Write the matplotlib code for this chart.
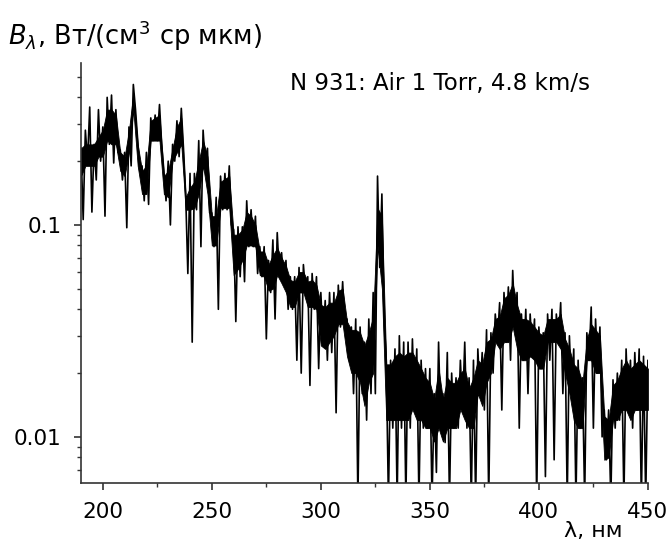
import numpy as np
import matplotlib
matplotlib.use('Agg')
import matplotlib.pyplot as plt
from matplotlib.ticker import LogLocator, NullFormatter, FixedLocator, MultipleLocator

plt.rcParams['font.family'] = ['DejaVu Sans']
plt.rcParams['mathtext.fontset'] = 'dejavusans'

# spectrum in 2 nm bins
wavelength = list(range(190, 451, 2))
# extreme excursions (spikes) per bin
upper = [0.23, 0.28, 0.36, 0.24, 0.35, 0.29, 0.40, 0.41, 0.35, 0.226,
         0.22, 0.29, 0.46, 0.25, 0.19, 0.22, 0.32, 0.33, 0.37, 0.18,
         0.20, 0.24, 0.31, 0.355, 0.14, 0.175, 0.175, 0.25, 0.28, 0.23,
         0.114, 0.135, 0.17, 0.175, 0.19, 0.095, 0.098, 0.098, 0.13, 0.118,
         0.11, 0.079, 0.079, 0.068, 0.085, 0.092, 0.074, 0.068, 0.057, 0.057,
         0.063, 0.065, 0.057, 0.059, 0.057, 0.048, 0.044, 0.048, 0.048, 0.052,
         0.054, 0.036, 0.033, 0.036, 0.033, 0.028, 0.036, 0.048, 0.17, 0.14,
         0.023, 0.023, 0.026, 0.030, 0.028, 0.028, 0.029, 0.026, 0.023, 0.021,
         0.021, 0.016, 0.028, 0.016, 0.025, 0.020, 0.019, 0.023, 0.028, 0.019,
         0.023, 0.026, 0.025, 0.032, 0.031, 0.038, 0.043, 0.048, 0.051, 0.061,
         0.048, 0.038, 0.040, 0.038, 0.036, 0.033, 0.031, 0.038, 0.040, 0.038,
         0.043, 0.031, 0.030, 0.026, 0.023, 0.019, 0.031, 0.041, 0.036, 0.033,
         0.0134, 0.0134, 0.0186, 0.020, 0.023, 0.026, 0.023, 0.025, 0.026, 0.024,
         0.023]
lower = [0.106, 0.20, 0.115, 0.163, 0.20, 0.11, 0.24, 0.196, 0.22, 0.163,
         0.097, 0.19, 0.35, 0.18, 0.13, 0.125, 0.25, 0.25, 0.24, 0.13,
         0.10, 0.20, 0.21, 0.23, 0.059, 0.028, 0.118, 0.079, 0.19, 0.114,
         0.079, 0.040, 0.118, 0.118, 0.10, 0.035, 0.057, 0.054, 0.079, 0.079,
         0.059, 0.057, 0.029, 0.048, 0.036, 0.057, 0.052, 0.040, 0.040, 0.023,
         0.020, 0.048, 0.0175, 0.040, 0.021, 0.028, 0.023, 0.025, 0.013, 0.033,
         0.033, 0.023, 0.016, 0.005, 0.016, 0.012, 0.016, 0.016, 0.063, 0.037,
         0.005, 0.011, 0.005, 0.011, 0.005, 0.011, 0.0134, 0.005, 0.011, 0.011,
         0.005, 0.0068, 0.011, 0.0094, 0.005, 0.011, 0.011, 0.0134, 0.011, 0.005,
         0.005, 0.016, 0.0134, 0.005, 0.020, 0.028, 0.0134, 0.028, 0.023, 0.033,
         0.011, 0.023, 0.016, 0.025, 0.005, 0.021, 0.0065, 0.023, 0.0078, 0.028,
         0.016, 0.005, 0.016, 0.005, 0.011, 0.005, 0.023, 0.011, 0.020, 0.010,
         0.0078, 0.005, 0.011, 0.012, 0.005, 0.0134, 0.011, 0.0134, 0.005, 0.005,
         0.0134]
# dense (solid black) part of the trace per bin
core_hi = [0.23, 0.24, 0.24, 0.24, 0.26, 0.28, 0.35, 0.35, 0.33, 0.22,
           0.21, 0.28, 0.42, 0.24, 0.18, 0.19, 0.31, 0.32, 0.33, 0.17,
           0.18, 0.23, 0.29, 0.32, 0.135, 0.15, 0.16, 0.20, 0.25, 0.21,
           0.11, 0.11, 0.16, 0.165, 0.17, 0.09, 0.09, 0.095, 0.115, 0.11,
           0.10, 0.075, 0.075, 0.065, 0.072, 0.078, 0.07, 0.064, 0.055, 0.054,
           0.06, 0.06, 0.054, 0.055, 0.052, 0.042, 0.041, 0.043, 0.043, 0.049,
           0.05, 0.035, 0.032, 0.032, 0.031, 0.027, 0.031, 0.037, 0.12, 0.11,
           0.022, 0.022, 0.024, 0.025, 0.024, 0.025, 0.025, 0.023, 0.021, 0.019,
           0.018, 0.015, 0.021, 0.015, 0.019, 0.018, 0.018, 0.02, 0.021, 0.017,
           0.019, 0.023, 0.022, 0.028, 0.029, 0.036, 0.037, 0.045, 0.047, 0.053,
           0.042, 0.036, 0.036, 0.035, 0.033, 0.031, 0.03, 0.036, 0.036, 0.036,
           0.038, 0.029, 0.026, 0.022, 0.021, 0.018, 0.029, 0.034, 0.032, 0.030,
           0.0125, 0.012, 0.0175, 0.0185, 0.021, 0.023, 0.021, 0.022, 0.023, 0.022,
           0.021]
core_lo = [0.17, 0.19, 0.19, 0.19, 0.21, 0.21, 0.25, 0.24, 0.24, 0.18,
           0.17, 0.22, 0.35, 0.19, 0.14, 0.14, 0.25, 0.25, 0.25, 0.14,
           0.135, 0.20, 0.22, 0.24, 0.118, 0.118, 0.12, 0.14, 0.19, 0.14,
           0.08, 0.08, 0.12, 0.12, 0.12, 0.058, 0.062, 0.068, 0.08, 0.08,
           0.079, 0.058, 0.057, 0.049, 0.05, 0.058, 0.053, 0.048, 0.041, 0.041,
           0.048, 0.048, 0.041, 0.041, 0.04, 0.027, 0.026, 0.028, 0.03, 0.034,
           0.034, 0.024, 0.02, 0.02, 0.018, 0.014, 0.018, 0.02, 0.08, 0.05,
           0.012, 0.012, 0.012, 0.012, 0.012, 0.012, 0.0135, 0.012, 0.012, 0.011,
           0.011, 0.0095, 0.011, 0.0095, 0.011, 0.011, 0.011, 0.0135, 0.012, 0.011,
           0.011, 0.016, 0.014, 0.018, 0.02, 0.028, 0.026, 0.028, 0.028, 0.033,
           0.026, 0.023, 0.023, 0.024, 0.023, 0.021, 0.021, 0.028, 0.028, 0.028,
           0.026, 0.02, 0.016, 0.012, 0.011, 0.011, 0.023, 0.023, 0.02, 0.02,
           0.0078, 0.008, 0.012, 0.012, 0.0134, 0.0134, 0.012, 0.0134, 0.0134, 0.0134,
           0.0134]

# zigzag: upper value at the bin start, lower value one nm later
x = []
y = []
for w, hi, lo in zip(wavelength, upper, lower):
    x += [w, w + 1]
    y += [hi, lo]

fig = plt.figure(figsize=(6.70, 5.51), dpi=100)
ax = fig.add_axes([0.1209, 0.1234, 0.8461, 0.7623])
ax.fill_between(wavelength, core_lo, core_hi, color='black', lw=0.6,
                edgecolor='black')
ax.plot(x, y, color='black', lw=1.2)

ax.set_yscale('log')
ax.set_xlim(190, 450)
ax.set_ylim(0.00606, 0.581)

ax.xaxis.set_major_locator(MultipleLocator(50))
ax.xaxis.set_minor_locator(MultipleLocator(25))
ax.yaxis.set_major_locator(FixedLocator([0.01, 0.1]))
ax.set_yticklabels(['0.01', '0.1'])
ax.yaxis.set_minor_locator(LogLocator(base=10, subs=np.arange(2, 10)))
ax.yaxis.set_minor_formatter(NullFormatter())

for side in ['top', 'right']:
    ax.spines[side].set_visible(False)
for side in ['left', 'bottom']:
    ax.spines[side].set_color('#333333')
    ax.spines[side].set_linewidth(1.2)

ax.tick_params(which='major', length=5, width=1.2, color='#333333',
               labelsize=15.5, pad=9)
ax.tick_params(which='minor', length=3, width=1.0, color='#333333')

fig.text(0.012, 0.936, r'$B_{\lambda}$, Вт/(см$^3$ ср мкм)', fontsize=18.5,
         ha='left', va='center')
fig.text(0.885, 0.018, 'λ, нм', fontsize=16, ha='center', va='bottom')
ax.text(0.368, 0.95, 'N 931: Air 1 Torr, 4.8 km/s', transform=ax.transAxes,
        fontsize=16.5, ha='left', va='center')

fig.savefig('out.png', dpi=100)
